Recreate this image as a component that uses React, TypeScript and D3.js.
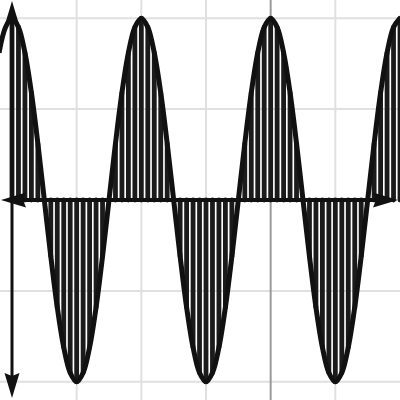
import React from "react";
import * as d3 from "d3";

const sampleIndex: number[] = d3.range(-2, 61);
const sampleValues: number[] = [
  0.81, 0.95,
  1, 0.95, 0.81, 0.59, 0.31, 0, -0.31, -0.59, -0.81, -0.95,
  -1, -0.95, -0.81, -0.59, -0.31, 0, 0.31, 0.59, 0.81, 0.95,
  1, 0.95, 0.81, 0.59, 0.31, 0, -0.31, -0.59, -0.81, -0.95,
  -1, -0.95, -0.81, -0.59, -0.31, 0, 0.31, 0.59, 0.81, 0.95,
  1, 0.95, 0.81, 0.59, 0.31, 0, -0.31, -0.59, -0.81, -0.95,
  -1, -0.95, -0.81, -0.59, -0.31, 0, 0.31, 0.59, 0.81, 0.95,
  1,
];
const STEP = Math.PI / 10;
const gridX: number[] = [1, 2, 3, 5].map((k) => k * Math.PI);
const darkGridX: number[] = [4 * Math.PI];
const gridY: number[] = [-1, -0.5, 0.5, 1];

const W = 400;
const H = 400;
const X_MAX = 6 * Math.PI;
const X_MIN = -X_MAX * (12 / 388);

export default function App() {
  const x = d3.scaleLinear().domain([X_MIN, X_MAX]).range([0, W]);
  const y = d3.scaleLinear().domain([-1.1, 1.1]).range([H, 0]);

  const pts = sampleIndex.map((k, i) => ({ x: k * STEP, v: sampleValues[i] }));
  const stems = pts.filter((p) => p.x >= 0);
  const line = d3
    .line<{ x: number; v: number }>()
    .x((d) => x(d.x))
    .y((d) => y(d.v))
    .curve(d3.curveCatmullRom.alpha(0.5));

  const x0 = x(0);
  const y0 = y(0);
  const L = 25;
  const hw = 7.5;
  const notch = 3;

  const arrowUp = `M${x0},${1} L${x0 + hw},${1 + L} L${x0},${1 + L - notch} L${x0 - hw},${1 + L} Z`;
  const arrowDown = `M${x0},${398} L${x0 + hw},${398 - L} L${x0},${398 - L + notch} L${x0 - hw},${398 - L} Z`;
  const arrowLeft = `M${1},${y0} L${1 + L},${y0 - hw} L${1 + L - notch},${y0} L${1 + L},${y0 + hw} Z`;
  const arrowRight = `M${398},${y0} L${398 - L},${y0 - hw} L${398 - L + notch},${y0} L${398 - L},${y0 + hw} Z`;

  return (
    <svg
      width={W}
      height={H}
      style={{ position: "fixed", left: 0, top: 0, background: "#fff" }}
    >
      <rect width={W} height={H} fill="#fff" />
      <g>
        {gridX.map((g) => (
          <line key={"gx" + g} x1={x(g)} x2={x(g)} y1={0} y2={H} stroke="#e0e0e0" strokeWidth={2} />
        ))}
        {gridY.map((g) => (
          <line key={"gy" + g} x1={0} x2={W} y1={y(g)} y2={y(g)} stroke="#e0e0e0" strokeWidth={2} />
        ))}
        {darkGridX.map((g) => (
          <line key={"dx" + g} x1={x(g)} x2={x(g)} y1={0} y2={H} stroke="#9a9a9a" strokeWidth={2} />
        ))}
      </g>
      <g>
        {stems.map((p, i) => (
          <line
            key={"s" + i}
            x1={x(p.x)}
            x2={x(p.x)}
            y1={y0}
            y2={y(p.v)}
            stroke="#1b1b1b"
            strokeWidth={4.8}
            strokeLinecap="round"
          />
        ))}
      </g>
      <path d={line(pts) || ""} fill="none" stroke="#111" strokeWidth={5} strokeLinejoin="round" />
      <line x1={15} x2={385} y1={y0} y2={y0} stroke="#111" strokeWidth={4} />
      <line x1={x0} x2={x0} y1={15} y2={385} stroke="#111" strokeWidth={3} />
      <path d={arrowUp} fill="#111" />
      <path d={arrowDown} fill="#111" />
      <path d={arrowLeft} fill="#111" />
      <path d={arrowRight} fill="#111" />
    </svg>
  );
}
